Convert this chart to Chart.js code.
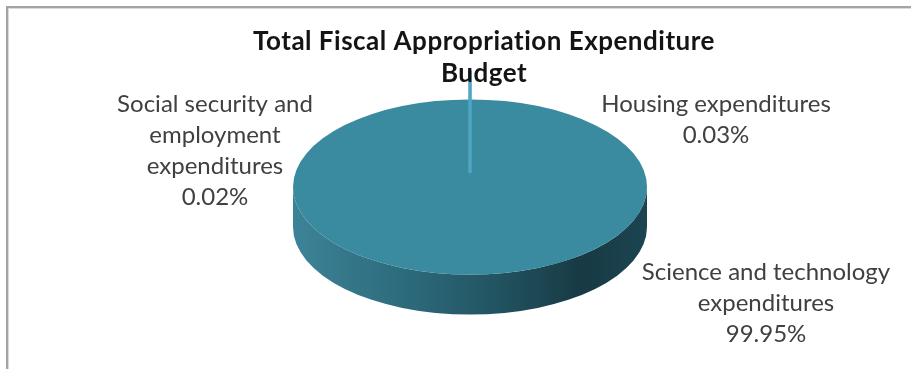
<!DOCTYPE html>
<html>
<head>
<meta charset="utf-8">
<title>Total Fiscal Appropriation Expenditure Budget</title>
<script src="https://cdn.jsdelivr.net/npm/chart.js@4.4.1/dist/chart.umd.min.js"></script>
<style>
  html, body { margin: 0; padding: 0; background: #fff; }
  #wrap { position: relative; width: 911px; height: 369px; overflow: hidden; }
  #frame {
    position: absolute; left: 6px; top: 6px; right: -10px; bottom: -10px;
    border-top: 2px solid #a4a4a4; border-left: 2px solid #a4a4a4;
    box-shadow: inset 1px 1px 0 #dadada;
  }
  canvas { position: absolute; left: 0; top: 0; }
</style>
</head>
<body>
<div id="wrap">
  <div id="frame"></div>
  <canvas id="budgetChart" width="911" height="369"></canvas>
</div>
<script>
// --- data ---
const chartTitle = ['Total Fiscal Appropriation Expenditure', 'Budget'];
const categories = ['Science and technology expenditures', 'Social security and employment expenditures', 'Housing expenditures'];
const shares = [99.95, 0.02, 0.03];
// how each category name is wrapped beside the pie
const labelLines = [
    ['Science and technology', 'expenditures'],
    ['Social security and', 'employment', 'expenditures'],
    ['Housing expenditures']
];

// --- layout ---
const PIE = { cx: 470, cy: 187, radius: 177, tilt: 0.495, depth: 40 };
const LINE = 31;
const titleSpot = { x: 484, y: 50 };
const labelSpots = [ { x: 766, y: 280 }, { x: 215, y: 112 }, { x: 716, y: 112 } ];

const total = shares.reduce((a, b) => a + b, 0);
// turn the pie so the boundary between the two thin slices sits at 12 o'clock
const startRotation = shares[2] / total * 360;

function toScreen(base, x, y) {
    return { x: PIE.cx + (x - base.x), y: PIE.cy + (y - base.y) * PIE.tilt };
}

// outer side wall of a slice, only the front half of the rim can be seen
function drawWall(ctx, arc, base) {
    const c = toScreen(base, arc.x, arc.y);
    const rx = arc.outerRadius;
    const ry = arc.outerRadius * PIE.tilt;
    for (let k = -1; k <= 1; k++) {
        const a0 = Math.max(arc.startAngle, 2 * Math.PI * k);
        const a1 = Math.min(arc.endAngle, 2 * Math.PI * k + Math.PI);
        if (a1 <= a0) continue;
        const grad = ctx.createLinearGradient(c.x - rx, 0, c.x + rx, 0);
        grad.addColorStop(0, '#3d8397');
        grad.addColorStop(0.3, '#2d6c7d');
        grad.addColorStop(0.55, '#235664');
        grad.addColorStop(0.82, '#173a44');
        grad.addColorStop(1, '#1c4551');
        ctx.beginPath();
        ctx.ellipse(c.x, c.y, rx, ry, 0, a0, a1);
        ctx.ellipse(c.x, c.y + PIE.depth, rx, ry, 0, a1, a0, true);
        ctx.closePath();
        ctx.fillStyle = grad;
        ctx.fill();
    }
}

const pie3d = {
    id: 'pie3d',
    beforeDatasetsDraw(chart) {
        const ctx = chart.ctx;
        const arcs = chart.getDatasetMeta(0).data;
        const base = arcs[0];
        ctx.save();
        arcs.forEach(arc => {
            if (!arc.options.offset) drawWall(ctx, arc, base);
        });
        // squash the flat pie into the tilted top face
        ctx.translate(PIE.cx, PIE.cy);
        ctx.scale(1, PIE.tilt);
        ctx.translate(-base.x, -base.y);
    },
    afterDatasetsDraw(chart) {
        chart.ctx.restore();
    }
};

const textLayer = {
    id: 'textLayer',
    afterDraw(chart) {
        const ctx = chart.ctx;
        ctx.save();
        ctx.textAlign = 'center';
        ctx.textBaseline = 'alphabetic';
        ctx.fillStyle = '#141414';
        ctx.font = 'bold 26px Lato';
        ctx.letterSpacing = '0.5px';
        chartTitle.forEach((t, i) => ctx.fillText(t, titleSpot.x, titleSpot.y + i * (LINE + 1)));
        ctx.letterSpacing = '0px';
        ctx.fillStyle = '#404040';
        ctx.font = '24px Lato';
        categories.forEach((name, i) => {
            const lines = labelLines[i].concat(shares[i].toFixed(2) + '%');
            lines.forEach((l, j) => ctx.fillText(l, labelSpots[i].x, labelSpots[i].y + j * LINE));
        });
        ctx.restore();
    }
};

new Chart(document.getElementById('budgetChart'), {
    type: 'pie',
    data: {
        labels: categories,
        datasets: [{
            data: shares,
            backgroundColor: ['#3a8aa0', '#56afcb', '#56afcb'],
            borderColor: ['#3a8aa0', '#4ea6c2', '#4ea6c2'],
            borderWidth: [0, 3, 3],
            offset: [0, 116, 116],
            clip: false
        }]
    },
    options: {
        responsive: false,
        animation: false,
        events: [],
        rotation: startRotation,
        radius: PIE.radius,
        plugins: {
            legend: { display: false },
            tooltip: { enabled: false },
            title: { display: false }
        }
    },
    plugins: [pie3d, textLayer]
});
</script>
</body>
</html>
